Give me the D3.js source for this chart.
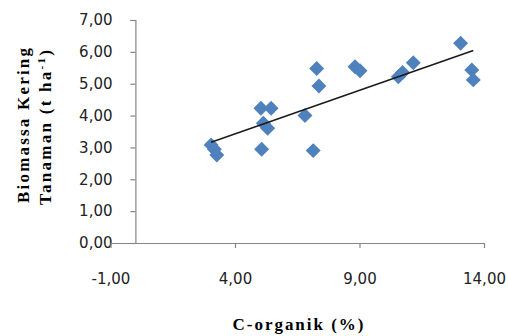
<!DOCTYPE html>
<html>
<head>
<meta charset="utf-8">
<script src="https://cdn.jsdelivr.net/npm/d3@7"></script>
<style>
  html, body { margin: 0; padding: 0; background: #fff; }
  svg { display: block; }
</style>
</head>
<body>
<div id="chart"></div>
<script>
// C-organik (%) vs Biomassa Kering Tanaman (t/ha)
const cOrganik = [3.04, 3.17, 3.27, 5.04, 5.45, 5.14, 5.31, 5.07, 6.81, 7.14,
                  7.28, 7.37, 8.82, 9.02, 10.56, 10.73, 11.16, 13.06, 13.51, 13.57];
const biomassa = [3.08, 2.94, 2.76, 4.23, 4.23, 3.76, 3.60, 2.94, 4.00, 2.90,
                  5.48, 4.93, 5.53, 5.41, 5.22, 5.35, 5.66, 6.27, 5.43, 5.12];
const xTicks = [-1, 4, 9, 14];
const yTicks = [0, 1, 2, 3, 4, 5, 6, 7];

const width = 508;
const height = 336;
const axisColor = '#868686';
const markerColor = '#4F81BD';
const fmt = d => d.toFixed(2).replace('.', ',');

const svg = d3.select('#chart')
  .append('svg')
  .attr('width', width)
  .attr('height', height);

const x = d3.scaleLinear().domain([-1, 14]).range([110.5, 484]);
const y = d3.scaleLinear().domain([0, 7]).range([243, 20]);

// y axis crosses at x = 0, labels sit at the left edge of the plot
const yAxis = svg.append('g')
  .attr('transform', `translate(${x(0)},0)`)
  .call(d3.axisLeft(y).tickValues(yTicks).tickSize(5).tickFormat(fmt));

yAxis.selectAll('text')
  .attr('x', x(-1) - x(0) + 2)
  .attr('font-family', '"DejaVu Sans", Verdana, sans-serif')
  .attr('font-size', 15)
  .attr('fill', '#222');

const xAxis = svg.append('g')
  .attr('transform', `translate(0,${y(0)})`)
  .call(d3.axisBottom(x).tickValues(xTicks).tickSize(5).tickSizeOuter(0).tickFormat(fmt));

xAxis.selectAll('text')
  .attr('y', 30)
  .attr('font-family', '"DejaVu Sans", Verdana, sans-serif')
  .attr('font-size', 15)
  .attr('fill', '#222');

svg.selectAll('.domain, .tick line').attr('stroke', axisColor).attr('stroke-width', 1.2);

// markers
const points = cOrganik.map((v, i) => ({ x: v, y: biomassa[i] }));

svg.append('g')
  .selectAll('path')
  .data(points)
  .enter()
  .append('path')
  .attr('d', d3.symbol(d3.symbolSquare, 112))
  .attr('transform', d => `translate(${x(d.x)},${y(d.y)}) rotate(45)`)
  .attr('fill', markerColor);

// linear trend line (least squares) across the data range
const mx = d3.mean(cOrganik);
const my = d3.mean(biomassa);
const slope = d3.sum(points, d => (d.x - mx) * (d.y - my)) / d3.sum(points, d => (d.x - mx) ** 2);
const intercept = my - slope * mx;
const xExt = d3.extent(cOrganik);

svg.append('line')
  .attr('x1', x(xExt[0]))
  .attr('y1', y(intercept + slope * xExt[0]))
  .attr('x2', x(xExt[1]))
  .attr('y2', y(intercept + slope * xExt[1]))
  .attr('stroke', '#1a1a1a')
  .attr('stroke-width', 1.5);

// axis titles
const titleFont = '"Liberation Serif", "Times New Roman", serif';

svg.append('text')
  .attr('x', 298)
  .attr('y', 330)
  .attr('text-anchor', 'middle')
  .attr('font-family', titleFont)
  .attr('font-weight', 'bold')
  .attr('font-size', 17)
  .attr('textLength', 131)
  .attr('lengthAdjust', 'spacing')
  .text('C-organik (%)');

svg.append('text')
  .attr('transform', 'translate(29,125.5) rotate(-90)')
  .attr('text-anchor', 'middle')
  .attr('font-family', titleFont)
  .attr('font-weight', 'bold')
  .attr('font-size', 17)
  .attr('textLength', 155)
  .attr('lengthAdjust', 'spacing')
  .text('Biomassa Kering');

const t2 = svg.append('text')
  .attr('transform', 'translate(51,127.5) rotate(-90)')
  .attr('text-anchor', 'middle')
  .attr('font-family', titleFont)
  .attr('font-weight', 'bold')
  .attr('font-size', 17)
  .attr('textLength', 155)
  .attr('lengthAdjust', 'spacing');
t2.append('tspan').text('Tanaman (t ha');
t2.append('tspan').attr('dy', -6).attr('font-size', 11).text('-1');
t2.append('tspan').attr('dy', 6).text(')');
</script>
</body>
</html>
